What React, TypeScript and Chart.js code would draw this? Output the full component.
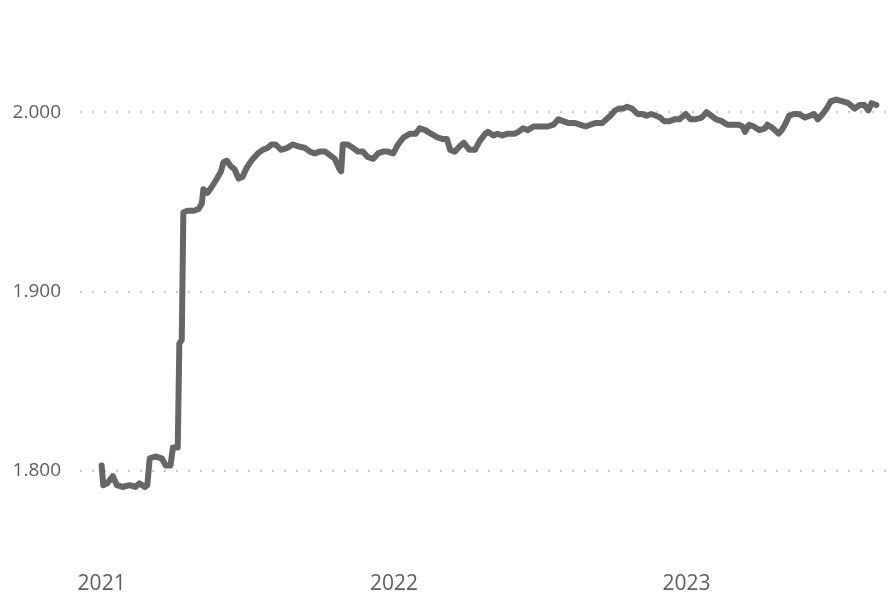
import React, { useEffect, useRef } from "react";
import { Chart, registerables } from "chart.js";

Chart.register(...registerables);

const dates: string[] = [
  "2021-01-01","2021-01-03","2021-01-08","2021-01-15","2021-01-20","2021-01-27","2021-02-05","2021-02-12","2021-02-17","2021-02-24",
  "2021-02-27","2021-03-02","2021-03-09","2021-03-17","2021-03-22","2021-03-28","2021-03-31","2021-04-06","2021-04-08","2021-04-11",
  "2021-04-13","2021-04-18","2021-04-26","2021-05-02","2021-05-06","2021-05-08","2021-05-13","2021-05-18","2021-05-25","2021-05-30",
  "2021-06-02","2021-06-06","2021-06-11","2021-06-16","2021-06-21","2021-06-26","2021-07-01","2021-07-07","2021-07-15","2021-07-21",
  "2021-07-27","2021-08-01","2021-08-06","2021-08-13","2021-08-20","2021-08-28","2021-09-03","2021-09-12","2021-09-18","2021-09-24",
  "2021-09-30","2021-10-07","2021-10-13","2021-10-19","2021-10-24","2021-10-27","2021-10-29","2021-11-04","2021-11-11","2021-11-17",
  "2021-11-23","2021-11-29","2021-12-06","2021-12-12","2021-12-18","2021-12-24","2021-12-31","2022-01-06","2022-01-13","2022-01-21",
  "2022-01-28","2022-02-02","2022-02-09","2022-02-16","2022-02-24","2022-03-03","2022-03-08","2022-03-12","2022-03-18","2022-03-24",
  "2022-03-29","2022-04-05","2022-04-12","2022-04-18","2022-04-25","2022-04-28","2022-05-05","2022-05-10","2022-05-16","2022-05-23",
  "2022-05-31","2022-06-05","2022-06-11","2022-06-17","2022-06-24","2022-06-30","2022-07-06","2022-07-12","2022-07-19","2022-07-25",
  "2022-07-31","2022-08-06","2022-08-14","2022-08-21","2022-08-28","2022-09-03","2022-09-10","2022-09-18","2022-09-23","2022-09-28",
  "2022-10-04","2022-10-09","2022-10-14","2022-10-19","2022-10-25","2022-11-01","2022-11-07","2022-11-12","2022-11-18","2022-11-24",
  "2022-11-29","2022-12-04","2022-12-11","2022-12-17","2022-12-23","2022-12-31","2023-01-06","2023-01-12","2023-01-20","2023-01-26",
  "2023-02-01","2023-02-07","2023-02-14","2023-02-21","2023-02-28","2023-03-07","2023-03-12","2023-03-15","2023-03-20","2023-03-26",
  "2023-04-02","2023-04-09","2023-04-12","2023-04-19","2023-04-26","2023-04-30","2023-05-05","2023-05-09","2023-05-15","2023-05-21",
  "2023-05-29","2023-06-04","2023-06-09","2023-06-14","2023-06-20","2023-06-25","2023-06-30","2023-07-07","2023-07-15","2023-07-22",
  "2023-07-30","2023-08-05","2023-08-11","2023-08-16","2023-08-20","2023-08-26",
];

const values: number[] = [
  1803,1792,1793,1797,1792,1791,1792,1791,1793,1791,
  1792,1807,1808,1807,1803,1803,1813,1813,1871,1873,
  1944,1945,1945,1946,1949,1957,1955,1958,1963,1967,
  1972,1973,1970,1968,1963,1964,1969,1973,1977,1979,
  1980,1982,1982,1979,1980,1982,1981,1980,1978,1977,
  1978,1978,1976,1974,1969,1967,1982,1982,1980,1978,
  1978,1975,1974,1977,1978,1978,1977,1982,1986,1988,
  1988,1991,1990,1988,1986,1985,1985,1979,1978,1981,
  1983,1979,1979,1984,1988,1989,1987,1988,1987,1988,
  1988,1989,1991,1990,1992,1992,1992,1992,1993,1996,
  1995,1994,1994,1993,1992,1993,1994,1994,1996,1998,
  2001,2002,2002,2003,2002,1999,1999,1998,1999,1998,
  1997,1995,1995,1996,1996,1999,1996,1996,1997,2000,
  1998,1996,1995,1993,1993,1993,1992,1989,1993,1992,
  1990,1991,1993,1991,1988,1990,1994,1998,1999,1999,
  1997,1998,1999,1996,1999,2002,2006,2007,2006,2005,
  2002,2004,2004,2001,2005,2004,
];

const yTicks: number[] = [1800, 1900, 2000];
const xTickYears: number[] = [2021, 2022, 2023];
const xMinDate = "2020-12-05";
const xMaxDate = "2023-09-12";
const yMin = 1750;
const yMax = 2050;

const fmtThousands = (v: number) =>
  Math.round(v).toString().replace(/\B(?=(\d{3})+(?!\d))/g, ".");

export default function App() {
  const ref = useRef<HTMLCanvasElement | null>(null);

  useEffect(() => {
    if (!ref.current) return;
    const points = dates.map((d, i) => ({ x: Date.parse(d), y: values[i] }));
    const chart = new Chart(ref.current, {
      type: "line",
      data: {
        datasets: [
          {
            data: points,
            borderColor: "#666666",
            borderWidth: 6,
            pointRadius: 0,
            tension: 0,
            borderJoinStyle: "round",
            borderCapStyle: "round",
            fill: false,
          },
        ],
      },
      options: {
        animation: false,
        responsive: false,
        maintainAspectRatio: false,
        layout: { padding: { top: 22.5, right: 6, bottom: 0, left: 0 } },
        plugins: { legend: { display: false }, tooltip: { enabled: false } },
        scales: {
          x: {
            type: "linear",
            min: Date.parse(xMinDate),
            max: Date.parse(xMaxDate),
            grid: { display: false, drawTicks: false },
            border: { display: false },
            afterBuildTicks: (scale: any) => {
              scale.ticks = xTickYears.map((y) => ({ value: Date.UTC(y, 0, 1) }));
            },
            afterFit: (scale: any) => {
              scale.height = 36.5;
              scale.paddingLeft = 0;
              scale.paddingRight = 0;
              scale.paddingTop = 0;
              scale.paddingBottom = 0;
            },
            ticks: {
              padding: 11,
              maxRotation: 0,
              autoSkip: false,
              color: "#605E5C",
              font: { family: "'Open Sans', sans-serif", size: 21 },
              callback: (v: any) => String(new Date(Number(v)).getUTCFullYear()),
            },
          },
          y: {
            type: "linear",
            min: yMin,
            max: yMax,
            afterBuildTicks: (scale: any) => {
              scale.ticks = yTicks.map((v) => ({ value: v }));
            },
            afterFit: (scale: any) => {
              scale.width = 80;
              scale.paddingTop = 0;
              scale.paddingBottom = 0;
              scale.paddingLeft = 0;
              scale.paddingRight = 0;
            },
            grid: {
              drawTicks: false,
              color: "#C8C8C8",
              lineWidth: 2,
            },
            border: { display: false, dash: [2, 10] },
            ticks: {
              padding: 19,
              color: "#605E5C",
              font: { family: "'Open Sans', sans-serif", size: 19 },
              callback: (v: any) => fmtThousands(Number(v)),
            },
          },
        },
      },
    });
    return () => chart.destroy();
  }, []);

  return (
    <div style={{ position: "fixed", left: 0, top: 0, width: 896, height: 597, background: "#ffffff" }}>
      <canvas ref={ref} width={896} height={597} style={{ width: 896, height: 597 }} />
    </div>
  );
}
